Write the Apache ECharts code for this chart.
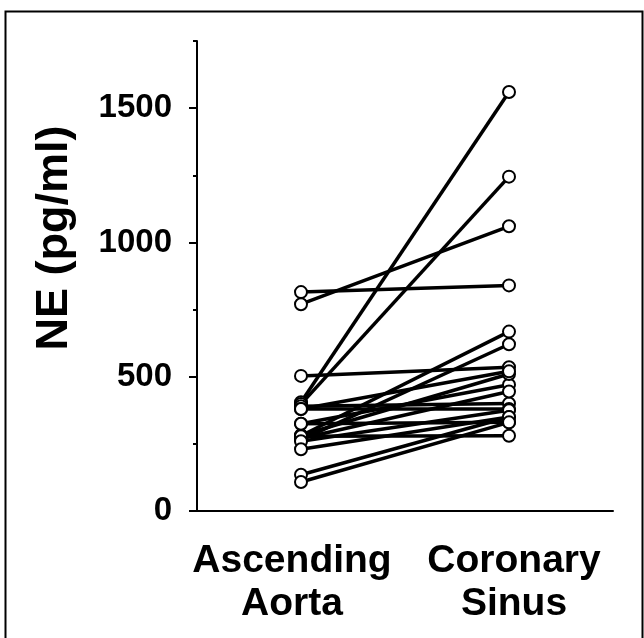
<!DOCTYPE html>
<html>
<head>
<meta charset="utf-8">
<script src="https://cdn.jsdelivr.net/npm/echarts@6/dist/echarts.min.js"></script>
<style>html,body{margin:0;padding:0;background:#fff}#c{width:644px;height:638px}</style>
</head>
<body>
<div id="c"></div>
<script>
var categories = ['Ascending\nAorta', 'Coronary\nSinus'];
var aorta = [815, 770, 503, 405, 398, 390, 380, 325, 280, 265, 282, 270, 278, 260, 230, 325, 135, 108, 380];
var sinus = [840, 1060, 535, 1560, 1245, 400, 380, 470, 668, 621, 510, 445, 280, 375, 350, 330, 350, 330, 520];
var majorTicks = [0, 500, 1000, 1500];
var yTitle = 'NE (pg/ml)';

var FONT = '"Liberation Sans", Arial, Helvetica, sans-serif';
var series = [];
for (var i = 0; i < aorta.length; i++) {
  series.push({
    type: 'line', xAxisIndex: 0, yAxisIndex: 0,
    data: [aorta[i], sinus[i]],
    showSymbol: false, symbol: 'none',
    lineStyle: { color: '#000', width: 3.5 },
    silent: true, animation: false, z: 2
  });
}
var pts = [];
for (var j = 0; j < aorta.length; j++) {
  pts.push([0, aorta[j]]);
  pts.push([1, sinus[j]]);
}
series.push({
  type: 'scatter', data: pts, symbol: 'circle', symbolSize: 12,
  itemStyle: { color: '#fff', borderColor: '#000', borderWidth: 2, opacity: 1 },
  animation: false, z: 5
});

var labStyle = { color: '#000', fontFamily: FONT, fontWeight: 'bold', fontSize: 39, lineHeight: 43, align: 'center' };
var chart = echarts.init(document.getElementById('c'));
chart.setOption({
  backgroundColor: '#fff',
  animation: false,
  grid: { left: 197, right: 31, top: 41, bottom: 127 },
  xAxis: {
    type: 'category', data: categories, boundaryGap: true,
    axisLine: { lineStyle: { color: '#000', width: 2 } },
    axisTick: { show: false },
    axisLabel: {
      interval: 0, margin: 29,
      formatter: function (v, idx) {
        var key = idx === 0 ? 'l' : 'r';
        return v.split('\n').map(function (s) { return '{' + key + '|' + s + '}'; }).join('\n');
      },
      rich: {
        l: Object.assign({ padding: [0, 18, 0, 0] }, labStyle),
        r: Object.assign({ padding: [0, 0, 0, 10] }, labStyle)
      }
    }
  },
  yAxis: [{
    type: 'value', min: 0, max: 1750, interval: 250, position: 'left',
    splitLine: { show: false },
    axisLine: { show: true, lineStyle: { color: '#000', width: 2 } },
    axisTick: { show: true, length: 4, lineStyle: { color: '#000', width: 2 } },
    axisLabel: { color: '#000', fontFamily: FONT, fontWeight: 'bold', fontSize: 33, margin: 25,
      formatter: function (v) { return majorTicks.indexOf(v) >= 0 ? String(v) : ''; } }
  }, {
    type: 'value', min: 0, max: 1750, position: 'left', offset: 0,
    splitLine: { show: false },
    axisLine: { show: false },
    axisTick: { show: true, length: 8, customValues: majorTicks, lineStyle: { color: '#000', width: 2 } },
    axisLabel: { show: false }
  }],
  graphic: [
    { type: 'rect', left: 3, top: 9, shape: { width: 637, height: 640 }, style: { fill: 'none', stroke: '#000', lineWidth: 2 }, silent: true },
    { type: 'text', x: 55, y: 238, rotation: Math.PI / 2,
      style: { text: yTitle, fill: '#000', font: 'bold 45px ' + FONT, align: 'center', verticalAlign: 'middle' } }
  ],
  series: series
});
</script>
</body>
</html>
